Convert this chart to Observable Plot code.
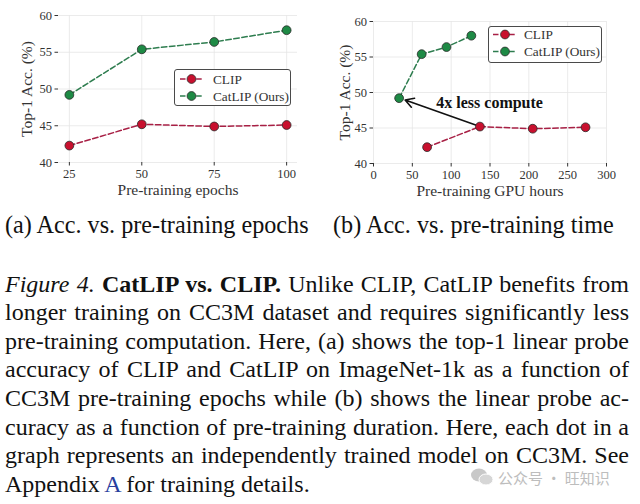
<!DOCTYPE html>
<html><head><meta charset="utf-8">
<script src="https://cdn.jsdelivr.net/npm/d3@7"></script>
<script src="https://cdn.jsdelivr.net/npm/@observablehq/plot@0.6"></script>
<style>
body{margin:0;background:#fff;}
#wrap{position:relative;width:640px;height:504px;overflow:hidden;font-family:"Liberation Serif","Times New Roman",serif;color:#111;}
.panel{position:absolute;top:0;}
.sub{position:absolute;top:211px;font-size:24.2px;white-space:nowrap;line-height:28px;}
#caption{position:absolute;left:5px;top:269.6px;width:624px;font-size:24px;line-height:28.6px;}
#caption .ln{text-align:justify;text-align-last:justify;height:28.6px;}
#caption .last{text-align:left;text-align-last:left;}
#wm{position:absolute;left:470px;top:467px;font-family:"Noto Sans CJK SC",sans-serif;font-size:15px;color:#bdbdbd;white-space:nowrap;}
</style>
</head><body>
<div id="wrap">
  <div id="pa" class="panel" style="left:0"></div>
  <div id="pb" class="panel" style="left:320px"></div>
  <div class="sub" style="left:5px">(a) Acc. vs. pre-training epochs</div>
  <div class="sub" style="left:333px">(b) Acc. vs. pre-training time</div>
  <div id="caption">
    <div class="ln"><i>Figure 4.</i> <b>CatLIP vs. CLIP.</b> Unlike CLIP, CatLIP benefits from</div>
    <div class="ln">longer training on CC3M dataset and requires significantly less</div>
    <div class="ln">pre-training computation. Here, (a) shows the top-1 linear probe</div>
    <div class="ln">accuracy of CLIP and CatLIP on ImageNet-1k as a function of</div>
    <div class="ln">CC3M pre-training epochs while (b) shows the linear probe ac-</div>
    <div class="ln">curacy as a function of pre-training duration. Here, each dot in a</div>
    <div class="ln">graph represents an independently trained model on CC3M. See</div>
    <div class="ln last">Appendix <span style="color:#2a3f9e">A</span> for training details.</div>
  </div>
  <div id="wm"><svg width="24" height="20" style="vertical-align:-3px;margin-right:4px"><ellipse cx="9" cy="8" rx="8" ry="6.5" fill="#c8c8c8"/><ellipse cx="16" cy="12.5" rx="7" ry="5.5" fill="#d6d6d6" stroke="#fff" stroke-width="1"/></svg>公众号 · 旺知识</div>
</div>
<script>
// ---- data ----
const epochs = [25, 50, 75, 100];
const clipAcc = [42.3, 45.2, 44.9, 45.1];
const catlipAcc = [49.2, 55.4, 56.4, 58.0];
const clipHours = [69, 137, 205, 273];
const catlipHours = [33, 62, 94, 126];
const yTicks = [40, 45, 50, 55, 60];
const epochTicks = [25, 50, 75, 100];
const hourTicks = [0, 50, 100, 150, 200, 250, 300];
const seriesNames = ["CLIP", "CatLIP (Ours)"];
const annotationText = "4x less compute";
// arrow from CLIP point to CatLIP point (data coords)
const arrowFrom = {x: 137, y: 45.2};
const arrowTo = {x: 40.7, y: 48.95};
const annotationPos = {x: 149.5, y: 48.6};

const RED = "#c8102e", RED_LINE = "#a82045";
const GREEN = "#1e8a45", GREEN_LINE = "#2e7d4f";
const FONT = "'Liberation Serif','Times New Roman',serif";

function rows(xs, ys, s) { return xs.map((x, i) => ({x, y: ys[i], s})); }

function panel({xs1, xs2, xDomain, xTicks, xLabel, marginLeft, marginRight, marginTop, marginBottom, yLabelDx, extra = []}) {
  const clip = rows(xs1, clipAcc, seriesNames[0]);
  const cat = rows(xs2, catlipAcc, seriesNames[1]);
  const grid = {stroke: "#e6e6e6", strokeOpacity: 1, strokeWidth: 0.8};
  return Plot.plot({
    width: 320, height: 205, marginLeft, marginRight, marginTop, marginBottom,
    style: {fontFamily: FONT, fontSize: "12.5px", color: "#333", background: "transparent"},
    x: {domain: xDomain, ticks: xTicks},
    y: {domain: [40, 60], ticks: yTicks},
    marks: [
      Plot.gridX(xTicks, grid),
      Plot.gridY(yTicks, grid),
      Plot.axisX({ticks: xTicks, tickSize: 3.5, tickPadding: 3, line: true, label: null, fontSize: 12.5, stroke: "#333", fill: "#333"}),
      Plot.axisY({ticks: yTicks, tickSize: 3.5, tickPadding: 3, line: true, label: null, fontSize: 12.5, stroke: "#333", fill: "#333"}),
      Plot.text([xLabel], {frameAnchor: "bottom", lineAnchor: "middle", textAnchor: "middle", dy: 28, fontSize: 15.5, fill: "#333"}),
      Plot.text(["Top-1 Acc. (%)"], {frameAnchor: "left", lineAnchor: "middle", textAnchor: "middle", rotate: -90, dx: yLabelDx, fontSize: 15.5, fill: "#333"}),
      ...extra,
      Plot.line(clip, {x: "x", y: "y", stroke: RED_LINE, strokeWidth: 1.5, strokeDasharray: "5.5,2.6"}),
      Plot.line(cat, {x: "x", y: "y", stroke: GREEN_LINE, strokeWidth: 1.5, strokeDasharray: "5.5,2.6"}),
      Plot.dot(clip, {x: "x", y: "y", r: 4.4, fill: RED, stroke: "#2a2a2a", strokeWidth: 0.8}),
      Plot.dot(cat, {x: "x", y: "y", r: 4.4, fill: GREEN, stroke: "#2a2a2a", strokeWidth: 0.8})
    ]
  });
}

function legend(left, top, w, h, rowY, lineX0, lineX1, textX) {
  const svg = d3.create("svg").attr("width", w).attr("height", h)
    .style("position", "absolute").style("left", left + "px").style("top", top + "px");
  svg.append("rect").attr("x", 0.5).attr("y", 0.5).attr("width", w - 1).attr("height", h - 1)
    .attr("rx", 2.5).attr("fill", "#fff").attr("stroke", "#4a4a4a").attr("stroke-width", 1);
  const items = [[seriesNames[0], RED, RED_LINE], [seriesNames[1], GREEN, GREEN_LINE]];
  items.forEach(([name, fill, line], i) => {
    const y = rowY[i];
    svg.append("line").attr("x1", lineX0).attr("x2", lineX1).attr("y1", y).attr("y2", y)
      .attr("stroke", line).attr("stroke-width", 1.5).attr("stroke-dasharray", "5.5,2.6");
    svg.append("circle").attr("cx", (lineX0 + lineX1) / 2).attr("cy", y).attr("r", 4.4)
      .attr("fill", fill).attr("stroke", "#2a2a2a").attr("stroke-width", 0.8);
    svg.append("text").attr("x", textX).attr("y", y).attr("dy", "0.35em")
      .attr("font-family", FONT).attr("font-size", 13.3).attr("fill", "#333").text(name);
  });
  return svg.node();
}

const wrap = document.getElementById("wrap");

document.getElementById("pa").append(panel({
  xs1: epochs, xs2: epochs, xDomain: [21.25, 103.75], xTicks: epochTicks, xLabel: "Pre-training epochs",
  marginLeft: 58, marginRight: 23, marginTop: 15, marginBottom: 43, yLabelDx: -31
}));

document.getElementById("pb").append(panel({
  xs1: clipHours, xs2: catlipHours, xDomain: [0, 300], xTicks: hourTicks, xLabel: "Pre-training GPU hours",
  marginLeft: 53, marginRight: 34, marginTop: 21, marginBottom: 42, yLabelDx: -28,
  extra: [
    Plot.arrow([{...arrowFrom, x2: arrowTo.x, y2: arrowTo.y}], {x1: "x", y1: "y", x2: "x2", y2: "y2", stroke: "#111", strokeWidth: 1.6, headLength: 9}),
    Plot.text([annotationPos], {x: "x", y: "y", text: () => annotationText, fontWeight: "bold", fontSize: 16, fill: "#111"})
  ]
}));

wrap.append(legend(174, 69, 117, 37, [10, 27], 6, 29, 39));
wrap.append(legend(488, 26, 114, 37, [8.5, 25.5], 5, 29, 36));
</script>
</body></html>
